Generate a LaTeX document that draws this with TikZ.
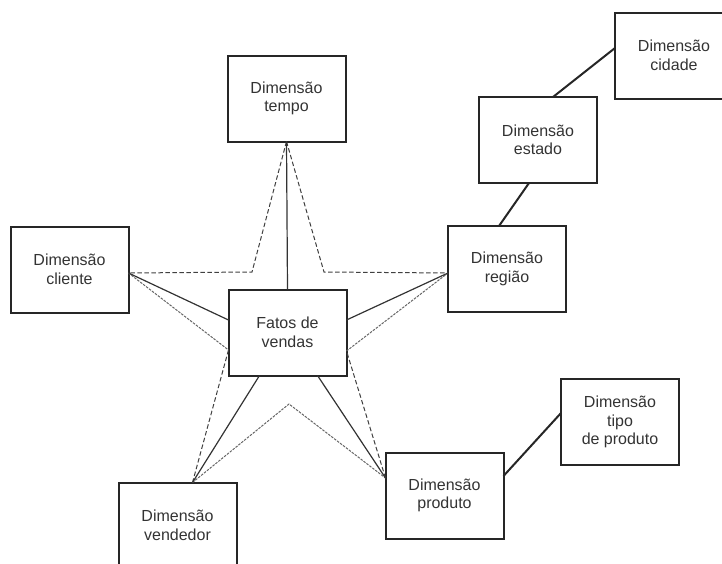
\documentclass[tikz,border=0pt]{standalone}
\usepackage{fontspec}
\setmainfont{Liberation Sans}
\usetikzlibrary{calc}

\tikzset{
  dimbox/.style={draw=black!85, line width=2pt, rectangle, minimum width=118pt,
    minimum height=86pt, inner sep=0pt, outer sep=0pt, align=center,
    text=black!80, font=\fontsize{16}{18.5}\selectfont},
  link/.style={draw=black!85, line width=2pt},
  spoke/.style={draw=black!80, line width=1.2pt},
  stardash/.style={draw=black!75, line width=1pt, dash pattern=on 4.5pt off 2.5pt},
  finedash/.style={draw=black!60, line width=1pt, dash pattern=on 2.5pt off 1.2pt},
}

\begin{document}
\begin{tikzpicture}[x=1pt, y=-1pt]
  \useasboundingbox (0,0) rectangle (722,563);
  \clip (0,0) rectangle (722,563);

  % dimension tables and the fact table
  \node[dimbox] (tempo)    at (286.5, 98.5) {Dimensão\\tempo};
  \node[dimbox] (cliente)  at (69.5, 269.5) {Dimensão\\cliente};
  \node[dimbox] (fatos)    at (287.5,332.5) {Fatos de\\vendas};
  \node[dimbox] (regiao)   at (507, 269)    {Dimensão\\região};
  \node[dimbox] (estado)   at (538, 140)    {Dimensão\\estado};
  \node[dimbox] (cidade)   at (674, 55.5)   {Dimensão\\cidade};
  \node[dimbox] (tipo)     at (620, 422)    {Dimensão\\tipo\\de produto};
  \node[dimbox] (produto)  at (444.5,495.5) {Dimensão\\produto};
  \node[dimbox] (vendedor) at (177.5,525.5) {Dimensão\\vendedor};

  % star tips on the dimension boxes
  \coordinate (tT) at (tempo.south);
  \coordinate (tC) at ($(cliente.east)+(0,3.5)$);
  \coordinate (tR) at ($(regiao.west)+(0,4)$);
  \coordinate (tV) at ($(vendedor.north west)+(74,0)$);
  \coordinate (tP) at ($(produto.west)+(0,-17.5)$);
  % inner corners of the star
  \coordinate (iA) at (252,272);
  \coordinate (iF) at (324,272);
  \coordinate (iB) at (fatos.south west |- 0,350);
  \coordinate (iE) at (fatos.south east |- 0,351);
  \coordinate (iD) at (289,404);

  % star outline
  \draw[stardash] (tT) -- (iA) -- (tC);
  \draw[stardash] (tT) -- (iF) -- (tR);
  \draw[finedash] (tC) -- (iB);
  \draw[stardash] (iB) -- (tV);
  \draw[finedash] (tV) -- (iD) -- (tP);
  \draw[stardash] (tP) -- (iE);
  \draw[finedash] (iE) -- (tR);

  % spokes from the dimensions to the fact table
  \draw[spoke] (tT) -- (fatos.north);
  \draw[spoke] (tC) -- ($(fatos.west)+(0,-12.5)$);
  \draw[spoke] (tR) -- ($(fatos.east)+(0,-12.5)$);
  \draw[spoke] (tV) -- ($(fatos.south west)+(31,0)$);
  \draw[spoke] (tP) -- ($(fatos.south west)+(89,0)$);

  % snowflake hierarchies
  \draw[link] ($(regiao.north west)+(51,0)$) -- ($(estado.south west)+(50,0)$);
  \draw[link] ($(estado.north west)+(74,0)$) -- ($(cidade.west)+(0,-7.5)$);
  \draw[link] ($(produto.east)+(0,-19.5)$) -- ($(tipo.west)+(0,-9)$);
\end{tikzpicture}
\end{document}
